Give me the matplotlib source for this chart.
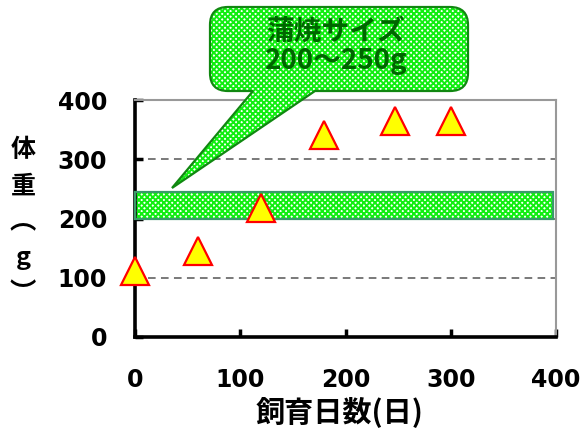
import matplotlib
matplotlib.use('Agg')
import matplotlib.pyplot as plt
from matplotlib.path import Path
from matplotlib.patches import PathPatch, Rectangle
from matplotlib.transforms import Affine2D

plt.rcParams['font.family'] = ['Noto Sans CJK JP', 'DejaVu Sans']
plt.rcParams['hatch.linewidth'] = 1.4

# ---- data ----
days = [0, 60, 120, 180, 247, 300]
weight = [111, 145, 217, 341, 364, 364]
x_ticks = [0, 100, 200, 300, 400]
y_ticks = [0, 100, 200, 300, 400]
band_low, band_high = 200, 245
band_end = 397
callout_text = '蒲焼サイズ\n200～250g'
xlabel = '飼育日数(日)'
ylabel_chars = ['体', '重', '︵', 'g', '︶']

W, H = 585, 434
fig = plt.figure(figsize=(W / 100, H / 100), dpi=100)
ax = fig.add_axes([135 / W, 1 - 337 / H, (556 - 135) / W, (337 - 100) / H])
ax.set_xlim(x_ticks[0], x_ticks[-1])
ax.set_ylim(y_ticks[0], y_ticks[-1])

HATCH_FACE = '#ffffff'
HATCH_COL = '#11ee11'
HATCH = 'x' * 6

# gridlines
for yv in y_ticks[1:-1]:
    ax.axhline(yv, color='#555555', lw=1.1, linestyle=(0, (5, 3.5)), zorder=1)

# band
ax.add_patch(Rectangle((0, band_low), band_end, band_high - band_low,
                       facecolor=HATCH_FACE, edgecolor=HATCH_COL, lw=0,
                       hatch=HATCH, zorder=2, clip_on=False))
ax.add_patch(Rectangle((0, band_low), band_end, band_high - band_low,
                       fill=False, edgecolor='#3a9a6a', lw=1.6, zorder=3, clip_on=False))

# markers
ax.plot(days, weight, linestyle='none', marker='^', ms=20,
        mfc='#ffff00', mec='#ff0000', mew=1.6, clip_on=False, zorder=6)

# spines
for s in ['left', 'bottom']:
    ax.spines[s].set_color('black')
    ax.spines[s].set_linewidth(2.6)
for s in ['top', 'right']:
    ax.spines[s].set_color('#999999')
    ax.spines[s].set_linewidth(1.5)

ax.set_xticks(x_ticks)
ax.set_yticks(y_ticks)
ax.tick_params(direction='in', length=6, width=2.5, color='black',
               top=False, right=False)
ax.tick_params(axis='x', pad=22)
ax.tick_params(axis='y', pad=20)
for lab in ax.get_xticklabels() + ax.get_yticklabels():
    lab.set_fontfamily('DejaVu Sans')
    lab.set_fontweight('bold')
    lab.set_fontsize(17)

# axis labels (vertical, one character per line)
ylab_pos = [150, 187, 222, 258, 294]
for ch, py in zip(ylabel_chars, ylab_pos):
    fig.text(23 / W, 1 - py / H, ch, ha='center', va='center',
             fontsize=19 if ch in '︵︶' else 18, fontweight='bold')
fig.text(340 / W, 1 - 412 / H, xlabel, ha='center', va='center',
         fontsize=21, fontweight='bold')

# callout shape (pixel coords, top-left origin)
x0, x1, y0, y1, r = 210, 468, 7, 91, 18
tip = (172, 188)
bl, br = 253, 315
verts = [(x0 + r, y0), (x1 - r, y0), (x1, y0), (x1, y0 + r), (x1, y1 - r), (x1, y1),
         (x1 - r, y1), (br, y1), tip, (bl, y1), (x0 + r, y1), (x0, y1), (x0, y1 - r),
         (x0, y0 + r), (x0, y0), (x0 + r, y0), (x0 + r, y0)]
codes = [Path.MOVETO, Path.LINETO, Path.CURVE3, Path.CURVE3, Path.LINETO, Path.CURVE3,
         Path.CURVE3, Path.LINETO, Path.LINETO, Path.LINETO, Path.LINETO, Path.CURVE3,
         Path.CURVE3, Path.LINETO, Path.CURVE3, Path.CURVE3, Path.CLOSEPOLY]
path = Path(verts, codes)
tr = Affine2D().scale(1 / W, -1 / H).translate(0, 1) + fig.transFigure
fig.patches.append(PathPatch(path, transform=tr, facecolor=HATCH_FACE,
                             edgecolor=HATCH_COL, lw=0, hatch=HATCH, zorder=7))
fig.patches.append(PathPatch(path, transform=tr, fill=False,
                             edgecolor='#118811', lw=1.6, zorder=8))

fig.text(336 / W, 1 - 46 / H, callout_text, ha='center', va='center',
         fontsize=20, fontweight='bold', color='#006600', linespacing=1.05,
         multialignment='center', zorder=9)

fig.savefig('out.png', dpi=100)
